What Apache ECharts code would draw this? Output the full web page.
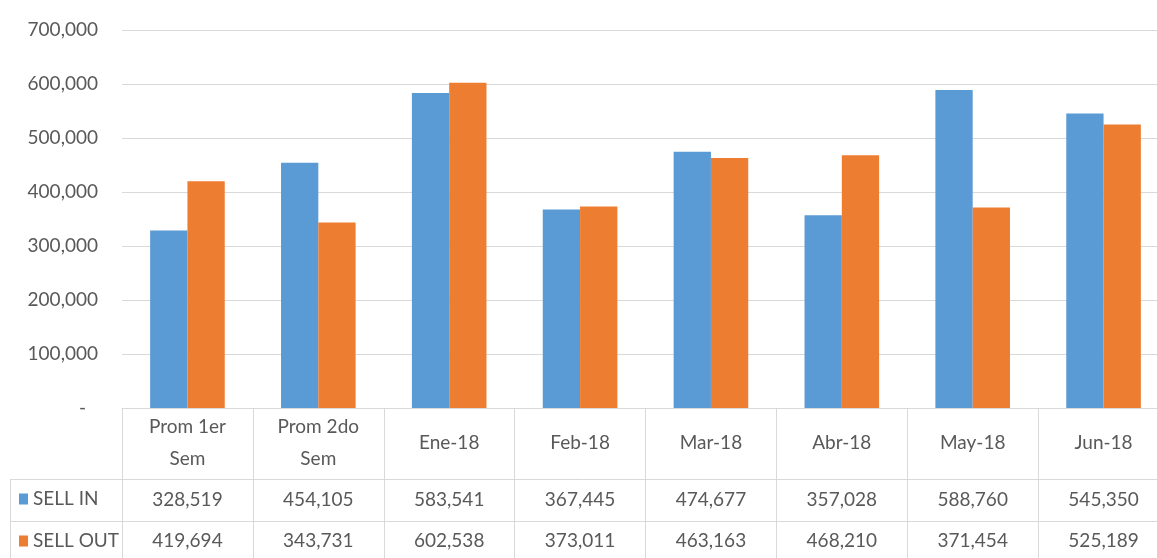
<!DOCTYPE html>
<html>
<head>
<meta charset="utf-8">
<script src="https://cdn.jsdelivr.net/npm/echarts@6/dist/echarts.min.js"></script>
<style>
html,body{margin:0;padding:0;background:#fff;}
#chart{width:1157px;height:558px;}
</style>
</head>
<body>
<div id="chart"></div>
<script>
const categories = ['Prom 1er\nSem', 'Prom 2do\nSem', 'Ene-18', 'Feb-18', 'Mar-18', 'Abr-18', 'May-18', 'Jun-18'];
const sellIn = [328519, 454105, 583541, 367445, 474677, 357028, 588760, 545350];
const sellOut = [419694, 343731, 602538, 373011, 463163, 468210, 371454, 525189];
const seriesNames = ['SELL IN', 'SELL OUT'];
const yTicks = { min: 0, max: 700000, interval: 100000 };

const FONT = 'Lato';
const TXT = '#595959';
const LINE = '#d9d9d9';
const fmt = v => v.toLocaleString('en-US');

const chart = echarts.init(document.getElementById('chart'));

const hiddenAxis = (data, margin) => ({
  type: 'category',
  position: 'bottom',
  gridIndex: 0,
  data: data,
  axisLine: { show: false },
  axisTick: { show: false },
  splitLine: { show: false },
  axisLabel: {
    interval: 0, margin: margin, verticalAlign: 'middle',
    color: TXT, fontSize: 19, fontFamily: FONT
  }
});

chart.setOption({
  animation: false,
  backgroundColor: '#fff',
  grid: { left: 122, right: -12, top: 30, bottom: 150, outerBoundsMode: 'none', containLabel: false },
  legend: {
    data: seriesNames,
    orient: 'vertical',
    left: 19,
    top: 489,
    padding: 0,
    itemGap: 22,
    itemWidth: 9,
    itemHeight: 11,
    icon: 'rect',
    selectedMode: false,
    textStyle: { color: TXT, fontSize: 19, fontFamily: FONT, lineHeight: 20 }
  },
  xAxis: [
    {
      type: 'category',
      data: categories,
      axisLine: { show: true, lineStyle: { color: LINE, width: 1 } },
      axisTick: { show: true, length: 152, interval: 0, lineStyle: { color: LINE, width: 1 } },
      splitLine: { show: false },
      axisLabel: {
        interval: 0, margin: 35, verticalAlign: 'middle', lineHeight: 32,
        color: TXT, fontSize: 19, fontFamily: FONT
      }
    },
    hiddenAxis(sellIn.map(fmt), 92),
    hiddenAxis(sellOut.map(fmt), 133)
  ],
  yAxis: {
    type: 'value',
    min: yTicks.min, max: yTicks.max, interval: yTicks.interval,
    axisLine: { show: false },
    axisTick: { show: false },
    splitLine: { lineStyle: { color: LINE, width: 1 } },
    axisLabel: {
      margin: 24,
      color: TXT, fontSize: 19, fontFamily: FONT,
      formatter: v => v === 0 ? '{d|-}' : fmt(v),
      rich: { d: { color: TXT, fontSize: 19, fontFamily: FONT, padding: [0, 12, 0, 0] } }
    }
  },
  series: [
    {
      name: seriesNames[0], type: 'bar', data: sellIn,
      barGap: '0%', barCategoryGap: '43%',
      itemStyle: { color: '#5b9bd5' }
    },
    {
      name: seriesNames[1], type: 'bar', data: sellOut,
      barGap: '0%', barCategoryGap: '43%',
      itemStyle: { color: '#ed7d31' }
    }
  ],
  graphic: [
    { type: 'line', silent: true, shape: { x1: 10, y1: 479.5, x2: 1157, y2: 479.5 }, style: { stroke: LINE, lineWidth: 1 } },
    { type: 'line', silent: true, shape: { x1: 10, y1: 521.5, x2: 1157, y2: 521.5 }, style: { stroke: LINE, lineWidth: 1 } },
    { type: 'line', silent: true, shape: { x1: 10.5, y1: 479, x2: 10.5, y2: 558 }, style: { stroke: LINE, lineWidth: 1 } }
  ]
});
</script>
</body>
</html>
